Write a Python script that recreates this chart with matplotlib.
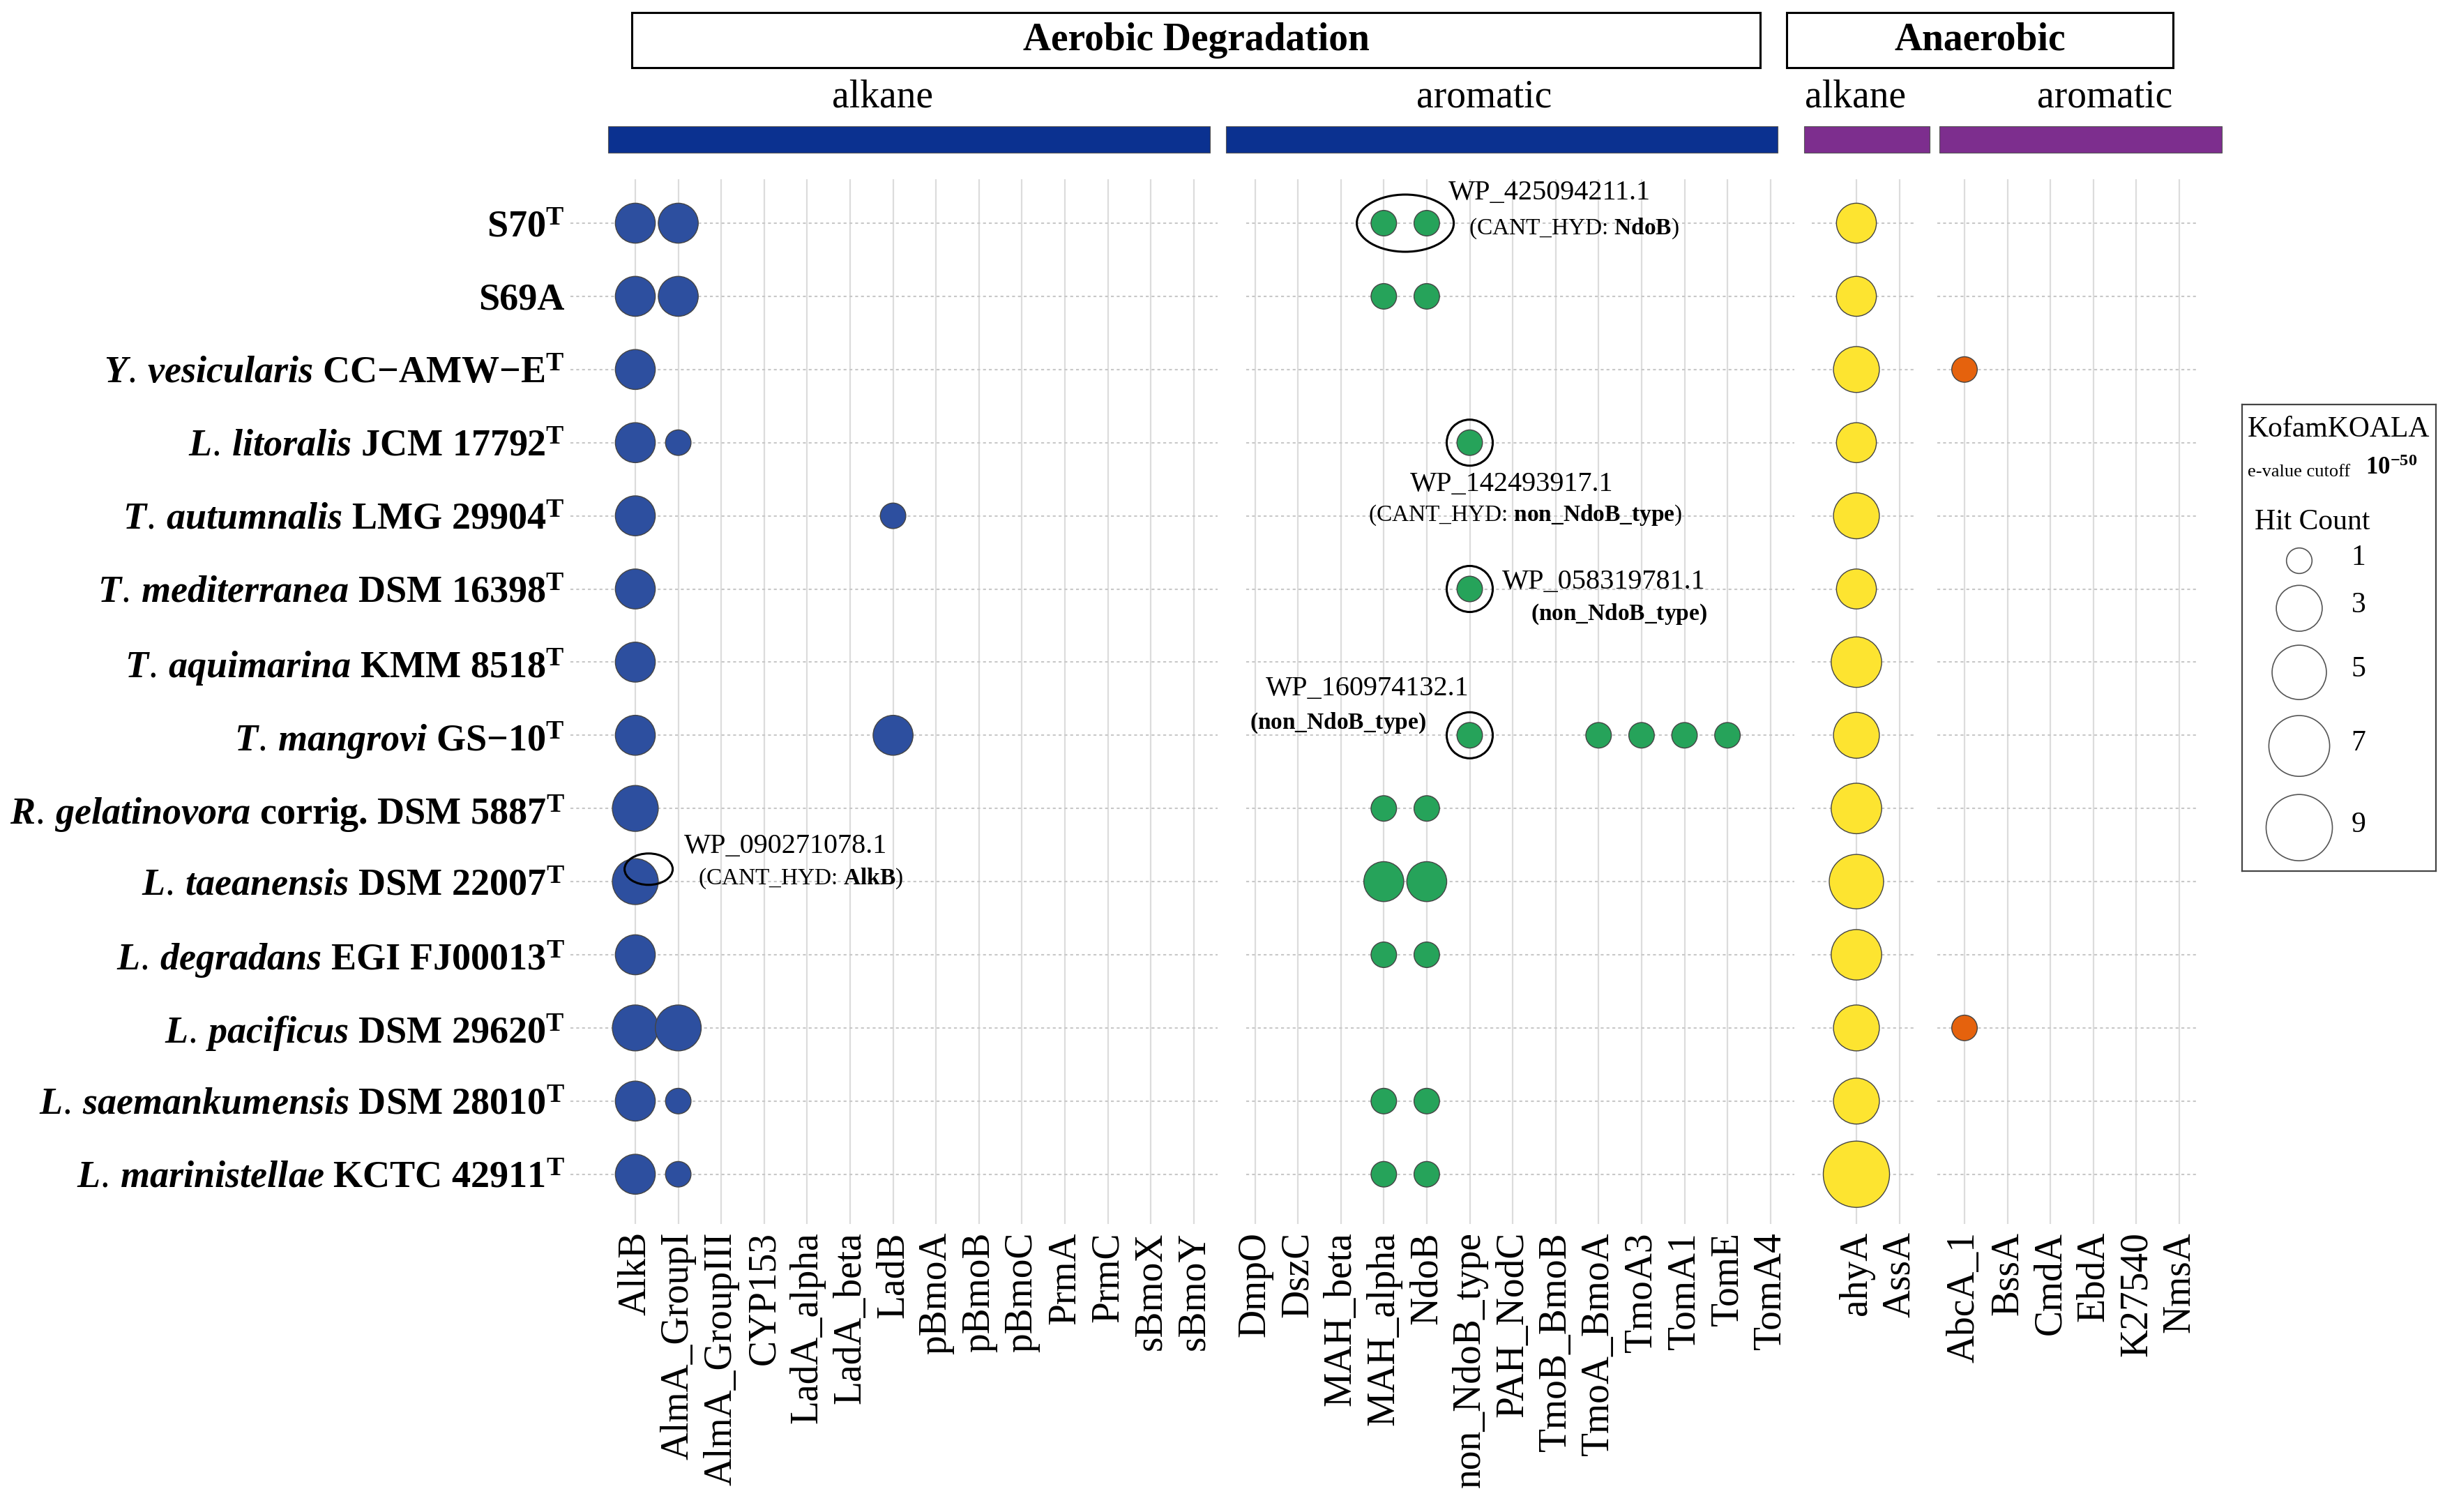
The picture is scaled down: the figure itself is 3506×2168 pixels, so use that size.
import numpy as np
import matplotlib.pyplot as plt
from matplotlib.patches import Ellipse, Rectangle

plt.rcParams['font.family'] = 'Liberation Serif'
plt.rcParams['mathtext.fontset'] = 'custom'
plt.rcParams['mathtext.rm'] = 'Liberation Serif'
plt.rcParams['mathtext.it'] = 'Liberation Serif:italic:bold'
plt.rcParams['mathtext.bf'] = 'Liberation Serif:bold'

# ---- data ----
strains = [
    r"S70$^{\mathbf{T}}$",
    "S69A",
    r"$\mathit{Y.\,vesicularis}$ CC−AMW−E$^{\mathbf{T}}$",
    r"$\mathit{L.\,litoralis}$ JCM 17792$^{\mathbf{T}}$",
    r"$\mathit{T.\,autumnalis}$ LMG 29904$^{\mathbf{T}}$",
    r"$\mathit{T.\,mediterranea}$ DSM 16398$^{\mathbf{T}}$",
    r"$\mathit{T.\,aquimarina}$ KMM 8518$^{\mathbf{T}}$",
    r"$\mathit{T.\,mangrovi}$ GS−10$^{\mathbf{T}}$",
    r"$\mathit{R.\,gelatinovora}$ corrig. DSM 5887$^{\mathbf{T}}$",
    r"$\mathit{L.\,taeanensis}$ DSM 22007$^{\mathbf{T}}$",
    r"$\mathit{L.\,degradans}$ EGI FJ00013$^{\mathbf{T}}$",
    r"$\mathit{L.\,pacificus}$ DSM 29620$^{\mathbf{T}}$",
    r"$\mathit{L.\,saemankumensis}$ DSM 28010$^{\mathbf{T}}$",
    r"$\mathit{L.\,marinistellae}$ KCTC 42911$^{\mathbf{T}}$",
]

aer_alkane_genes = ["AlkB", "AlmA_GroupI", "AlmA_GroupIII", "CYP153", "LadA_alpha",
                    "LadA_beta", "LadB", "pBmoA", "pBmoB", "pBmoC", "PrmA", "PrmC",
                    "sBmoX", "sBmoY"]
aer_alkane_hits = [
    [2, 2, 0, 0, 0, 0, 0, 0, 0, 0, 0, 0, 0, 0],
    [2, 2, 0, 0, 0, 0, 0, 0, 0, 0, 0, 0, 0, 0],
    [2, 0, 0, 0, 0, 0, 0, 0, 0, 0, 0, 0, 0, 0],
    [2, 1, 0, 0, 0, 0, 0, 0, 0, 0, 0, 0, 0, 0],
    [2, 0, 0, 0, 0, 0, 1, 0, 0, 0, 0, 0, 0, 0],
    [2, 0, 0, 0, 0, 0, 0, 0, 0, 0, 0, 0, 0, 0],
    [2, 0, 0, 0, 0, 0, 0, 0, 0, 0, 0, 0, 0, 0],
    [2, 0, 0, 0, 0, 0, 2, 0, 0, 0, 0, 0, 0, 0],
    [3, 0, 0, 0, 0, 0, 0, 0, 0, 0, 0, 0, 0, 0],
    [3, 0, 0, 0, 0, 0, 0, 0, 0, 0, 0, 0, 0, 0],
    [2, 0, 0, 0, 0, 0, 0, 0, 0, 0, 0, 0, 0, 0],
    [3, 3, 0, 0, 0, 0, 0, 0, 0, 0, 0, 0, 0, 0],
    [2, 1, 0, 0, 0, 0, 0, 0, 0, 0, 0, 0, 0, 0],
    [2, 1, 0, 0, 0, 0, 0, 0, 0, 0, 0, 0, 0, 0],
]

aer_aromatic_genes = ["DmpO", "DszC", "MAH_beta", "MAH_alpha", "NdoB", "non_NdoB_type",
                      "PAH_NodC", "TmoB_BmoB", "TmoA_BmoA", "TmoA3", "TomA1", "TomE", "TomA4"]
aer_aromatic_hits = [
    [0, 0, 0, 1, 1, 0, 0, 0, 0, 0, 0, 0, 0],
    [0, 0, 0, 1, 1, 0, 0, 0, 0, 0, 0, 0, 0],
    [0, 0, 0, 0, 0, 0, 0, 0, 0, 0, 0, 0, 0],
    [0, 0, 0, 0, 0, 1, 0, 0, 0, 0, 0, 0, 0],
    [0, 0, 0, 0, 0, 0, 0, 0, 0, 0, 0, 0, 0],
    [0, 0, 0, 0, 0, 1, 0, 0, 0, 0, 0, 0, 0],
    [0, 0, 0, 0, 0, 0, 0, 0, 0, 0, 0, 0, 0],
    [0, 0, 0, 0, 0, 1, 0, 0, 1, 1, 1, 1, 0],
    [0, 0, 0, 1, 1, 0, 0, 0, 0, 0, 0, 0, 0],
    [0, 0, 0, 2, 2, 0, 0, 0, 0, 0, 0, 0, 0],
    [0, 0, 0, 1, 1, 0, 0, 0, 0, 0, 0, 0, 0],
    [0, 0, 0, 0, 0, 0, 0, 0, 0, 0, 0, 0, 0],
    [0, 0, 0, 1, 1, 0, 0, 0, 0, 0, 0, 0, 0],
    [0, 0, 0, 1, 1, 0, 0, 0, 0, 0, 0, 0, 0],
]

ana_alkane_genes = ["ahyA", "AssA"]
ana_alkane_hits = [[2, 0], [2, 0], [3, 0], [2, 0], [3, 0], [2, 0], [4, 0],
                   [3, 0], [4, 0], [5, 0], [4, 0], [3, 0], [3, 0], [9, 0]]

ana_aromatic_genes = ["AbcA_1", "BssA", "CmdA", "EbdA", "K27540", "NmsA"]
ana_aromatic_hits = [[0] * 6, [0] * 6, [1, 0, 0, 0, 0, 0], [0] * 6, [0] * 6, [0] * 6,
                     [0] * 6, [0] * 6, [0] * 6, [0] * 6, [0] * 6, [1, 0, 0, 0, 0, 0],
                     [0] * 6, [0] * 6]

legend_breaks = [1, 3, 5, 7, 9]

# ---- layout (pixels of the 3506x2168 canvas) ----
W, H = 3506, 2168
TOP, BOT = 257, 1755
ROW0, ROWSTEP = 320, 104.9
STEP = 61.6
PX_PER_PT = 100 / 72


def marker_area(v):
    d = 36.6 + 20.65 * np.sqrt(np.asarray(v, dtype=float) - 1)
    return (d / PX_PER_PT) ** 2


fig = plt.figure(figsize=(W / 100, H / 100), dpi=100)

# overlay for headers / strips
top = fig.add_axes([0, 0, 1, 1])
top.set_xlim(0, W)
top.set_ylim(H, 0)
top.axis('off')

for x0, x1, label in [(906, 2524, "Aerobic Degradation"), (2562, 3116, "Anaerobic")]:
    top.add_patch(Rectangle((x0, 18), x1 - x0, 79, fill=False, lw=2.2, ec='black'))
    top.text((x0 + x1) / 2, 58, label, ha='center', va='center', fontsize=40,
             fontweight='bold')

for x0, x1, col in [(872, 1735, '#0B3190'), (1758, 2549, '#0B3190'),
                    (2587, 2767, '#7D2E8E'), (2781, 3186, '#7D2E8E')]:
    top.add_patch(Rectangle((x0, 181), x1 - x0, 38, fc=col, ec='#555555', lw=0.8))

for xc, label in [(1266, "alkane"), (2128, "aromatic"), (2661, "alkane"), (3018, "aromatic")]:
    top.text(xc, 140, label, ha='center', va='center', fontsize=40)


def draw_panel(left, right, first, genes, hits, color, show_rows=False):
    ax = fig.add_axes([left / W, 1 - BOT / H, (right - left) / W, (BOT - TOP) / H])
    ax.set_xlim((left - first) / STEP, (right - first) / STEP)
    ax.set_ylim((BOT - ROW0) / ROWSTEP, (TOP - ROW0) / ROWSTEP)
    ax.set_xticks(range(len(genes)))
    ax.set_xticklabels(genes, rotation=90, fontsize=40)
    ax.set_yticks(range(len(strains)))
    if show_rows:
        ax.set_yticklabels(strains, fontsize=39, fontweight='bold')
    else:
        ax.set_yticklabels([])
    ax.tick_params(axis='x', length=0, pad=8)
    ax.tick_params(axis='y', length=0, pad=6)
    for s in ax.spines.values():
        s.set_visible(False)
    ax.set_axisbelow(True)
    ax.grid(axis='x', color='#DCDCDC', lw=1.6)
    ax.grid(axis='y', color='#C8C8C8', lw=1.5, linestyle=(0, (2, 2)))
    m = np.array(hits)
    r, c = np.nonzero(m)
    ax.scatter(c, r, s=marker_area(m[r, c]), c=color, edgecolors='#444444',
               linewidths=1.0, zorder=3, clip_on=False)
    return ax


ax1 = draw_panel(818, 1746, 911, aer_alkane_genes, aer_alkane_hits, '#2D4F9F', show_rows=True)
ax2 = draw_panel(1787, 2573, 1799.5, aer_aromatic_genes, aer_aromatic_hits, '#26A35A')
ax3 = draw_panel(2598, 2746, 2662, ana_alkane_genes, ana_alkane_hits, '#FDE430')
ax4 = draw_panel(2778, 3153, 2817, ana_aromatic_genes, ana_aromatic_hits, '#E5620D')


def ring(ax, x, y, w_px, h_px):
    ax.add_patch(Ellipse((x, y), w_px / STEP, h_px / ROWSTEP, fill=False, ec='black',
                         lw=2.2, zorder=5, clip_on=False))


def note(ax, x, y, s, size, ha='left'):
    ax.text(x, y, s, ha=ha, va='center', fontsize=size, zorder=6, clip_on=False)


mah_alpha = aer_aromatic_genes.index("MAH_alpha")
non_ndob = aer_aromatic_genes.index("non_NdoB_type")
alkb = aer_alkane_genes.index("AlkB")

# S70: MAH_alpha + NdoB
ring(ax2, mah_alpha + 0.5, 0, 139, 82)
note(ax2, 4.5, -0.41, "WP_425094211.1", 29)
note(ax2, 4.98, 0.07, r"(CANT_HYD: $\mathbf{NdoB}$)", 24)

# L. litoralis
ring(ax2, non_ndob, 3, 66, 66)
note(ax2, 5.98, 3.57, "WP_142493917.1", 29, ha='center')
note(ax2, 6.3, 3.99, r"(CANT_HYD: $\mathbf{non\_NdoB\_type}$)", 24, ha='center')

# T. mediterranea
ring(ax2, non_ndob, 5, 66, 66)
note(ax2, 5.75, 4.9, "WP_058319781.1", 29)
note(ax2, 6.42, 5.35, r"$\mathbf{(non\_NdoB\_type)}$", 24)

# T. mangrovi
ring(ax2, non_ndob, 7, 66, 66)
note(ax2, 2.62, 6.36, "WP_160974132.1", 29, ha='center')
note(ax2, 1.93, 6.83, r"$\mathbf{(non\_NdoB\_type)}$", 24, ha='center')

# L. taeanensis AlkB
ring(ax1, alkb + 0.31, 8.83, 69, 45)
note(ax1, 1.13, 8.52, "WP_090271078.1", 29)
note(ax1, 1.46, 8.96, r"(CANT_HYD: $\mathbf{AlkB}$)", 24)

# ---- size legend ----
LX0, LX1, LY0, LY1 = 3215, 3493, 580, 1249
lg = fig.add_axes([LX0 / W, 1 - LY1 / H, (LX1 - LX0) / W, (LY1 - LY0) / H])
lg.set_xlim(LX0, LX1)
lg.set_ylim(LY1, LY0)
lg.set_xticks([])
lg.set_yticks([])
for s in lg.spines.values():
    s.set_color('#444444')
    s.set_linewidth(1.6)
lg.text(3223, 616, "KofamKOALA", ha='left', va='center', fontsize=30)
lg.text(3223, 677, "e-value cutoff", ha='left', va='center', fontsize=19)
lg.text(3392, 672, r"$\mathbf{10}^{\mathbf{-50}}$", ha='left', va='center', fontsize=25)
lg.text(3233, 749, "Hit Count", ha='left', va='center', fontsize=30)
diam = 36.6 + 20.65 * np.sqrt(np.array(legend_breaks) - 1)
ys = [804]
for i in range(1, len(diam)):
    ys.append(ys[-1] + (diam[i - 1] + diam[i]) / 2 + 14 + 3 * i)
lg.scatter([3297] * len(ys), ys, s=marker_area(legend_breaks), facecolors='none',
           edgecolors='#555555', linewidths=1.2)
for y, b in zip(ys, legend_breaks):
    lg.text(3382, y - 4, str(b), ha='center', va='center', fontsize=30)

fig.savefig("out.png", dpi=100)
